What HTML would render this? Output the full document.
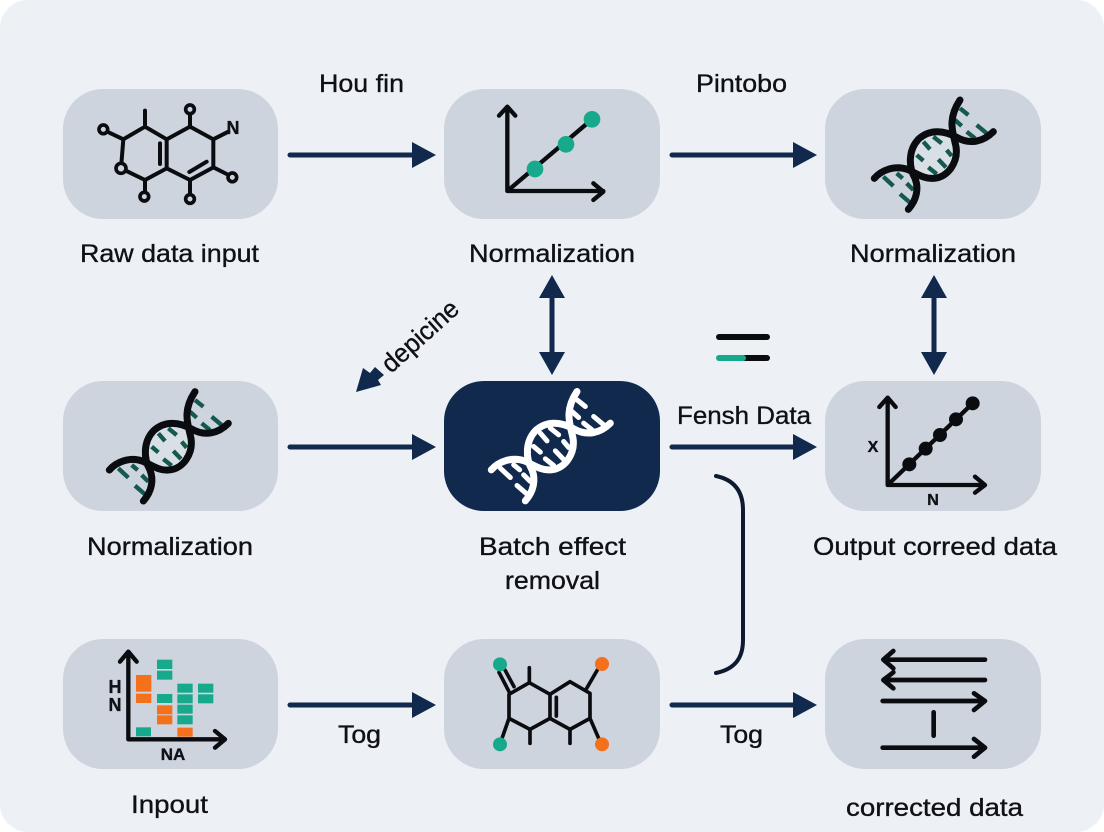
<!DOCTYPE html>
<html><head><meta charset="utf-8"><style>
html,body{margin:0;padding:0;background:#fff}
svg{display:block}
text{font-family:"Liberation Sans",sans-serif;fill:#0f1116;stroke:#0f1116;stroke-width:.35px}
.t{font-size:25px;text-anchor:start}
.k{fill:none;stroke:#0b0c10;stroke-linecap:round;stroke-linejoin:round}
</style></head><body>
<svg width="1104" height="832" viewBox="0 0 1104 832" xmlns="http://www.w3.org/2000/svg">
<defs>
<g id="dnaR" fill="none" stroke-linecap="round">
<path d="M408 200C415 245 385 293 340 295C310 297 295 285 285 295C265 260 265 210 295 178C330 145 375 152 410 172Z" fill="#d8dfe5" stroke="none"/>
<path d="M420 85L445 105M405 120L425 138M470 135L500 160M440 155L465 175M340 170L365 190M310 185L330 208M380 210L395 228M290 225L310 242M355 238L378 262M325 262L350 282M230 280L248 295M190 290L220 318M260 310L280 330M240 342L270 368" stroke="#14584f" stroke-width="13" stroke-linecap="butt"/>
<path d="M163 295C185 270 225 255 262 268C290 280 310 297 340 295C385 293 415 245 408 200C400 160 380 120 420 60" stroke="#0b0c10" stroke-width="21"/>
<path d="M520 155C490 185 450 195 410 172C375 152 330 145 295 178C265 210 265 260 285 295C297 325 290 360 265 388" stroke="#0b0c10" stroke-width="21"/>
</g>
<g id="dnaW" fill="none" stroke-linecap="round" stroke="#fff">
<path d="M420 85L445 105M405 120L425 138M470 135L500 160M440 155L465 175M340 170L365 190M310 185L330 208M380 210L395 228M290 225L310 242M355 238L378 262M325 262L350 282M230 280L248 295M190 290L220 318M260 310L280 330M240 342L270 368" stroke-width="15"/>
<path d="M163 295C185 270 225 255 262 268C290 280 310 297 340 295C385 293 415 245 408 200C400 160 380 120 420 60" stroke-width="21"/>
<path d="M520 155C490 185 450 195 410 172C375 152 330 145 295 178C265 210 265 260 285 295C297 325 290 360 265 388" stroke-width="21"/>
</g>
</defs>
<rect x="0" y="0" width="1104" height="832" rx="28" fill="#edf0f5"/>

<g fill="#cdd4dd">
<rect x="63" y="89" width="215" height="130" rx="40"/>
<rect x="444" y="89" width="216" height="130" rx="40"/>
<rect x="825" y="89" width="216" height="130" rx="40"/>
<rect x="63" y="381" width="215" height="130" rx="40"/>
<rect x="444" y="381" width="216" height="130" rx="40" fill="#10294d"/>
<rect x="825" y="381" width="216" height="130" rx="40"/>
<rect x="63" y="639" width="215" height="130" rx="40"/>
<rect x="444" y="639" width="216" height="130" rx="40"/>
<rect x="825" y="639" width="216" height="130" rx="40"/>
</g>

<!-- molecule 1 -->
<g transform="translate(60,80) scale(.33333)">
<path class="k" stroke-width="12" d="M255 140L320 178L320 265L255 300L183 265L190 178ZM320 178L390 140L460 178L460 262L390 300L320 265M255 140V92M300 190V252M388 276L440 245M190 178L148 158M390 140V105M460 178L505 155M460 262L500 282M390 300V340M255 300V332"/>
<g fill="none" stroke="#0b0c10" stroke-width="11">
<circle cx="130" cy="148" r="13"/><circle cx="390" cy="88" r="13"/><circle cx="517" cy="292" r="13"/><circle cx="390" cy="357" r="13"/><circle cx="253" cy="350" r="13"/><circle cx="183" cy="265" r="15" fill="#cdd4dd"/>
</g>
</g>
<text x="233" y="134" text-anchor="middle" font-size="18" font-weight="bold">N</text>

<!-- chart 1 -->
<g transform="translate(440,80) scale(.33333)">
<path class="k" stroke-width="13" d="M202 333V80M177 107L202 80L226 107M202 333H490M460 310L490 335L460 360M202 333L456 118"/>
<circle cx="285" cy="267" r="25" fill="#17a98c"/><circle cx="378" cy="193" r="25" fill="#17a98c"/><circle cx="456" cy="118" r="25" fill="#17a98c"/>
</g>

<!-- DNA -->
<use href="#dnaR" transform="translate(820,80) scale(.33333)"/>
<use href="#dnaR" transform="translate(55,371.7) scale(.33333)"/>
<use href="#dnaW" transform="translate(437,371.5) scale(.33333)"/>

<!-- chart 2 -->
<g transform="translate(820,375) scale(.33333)">
<path class="k" stroke-width="13" d="M203 330V68M178 96L203 68L227 96M203 330H493M465 305L495 330L465 353M203 330L458 85"/>
<g fill="#0b0c10"><circle cx="268" cy="268" r="21"/><circle cx="317" cy="221" r="21"/><circle cx="360" cy="180" r="21"/><circle cx="408" cy="133" r="21"/><circle cx="458" cy="85" r="21"/></g>
</g>
<text x="873" y="452" text-anchor="middle" font-size="16" font-weight="bold">X</text>
<text x="933" y="505" text-anchor="middle" font-size="16" font-weight="bold">N</text>

<!-- heat chart -->
<g transform="translate(60,635) scale(.33333)">
<g fill="#17a98c">
<rect x="291" y="74" width="46" height="28"/><rect x="291" y="107" width="46" height="27"/><rect x="352" y="146" width="46" height="27"/><rect x="352" y="178" width="46" height="27"/><rect x="414" y="146" width="46" height="27"/><rect x="414" y="178" width="46" height="27"/><rect x="291" y="177" width="46" height="27"/><rect x="352" y="209" width="46" height="27"/><rect x="352" y="241" width="46" height="27"/><rect x="228" y="277" width="45" height="27"/>
</g>
<g fill="#f4701b">
<rect x="228" y="120" width="46" height="50"/><rect x="228" y="176" width="46" height="28"/><rect x="291" y="211" width="46" height="27"/><rect x="291" y="241" width="46" height="27"/><rect x="352" y="278" width="46" height="27"/>
</g>
<path class="k" stroke-width="13" d="M205 313V50M180 80L205 50L230 80M205 313H492M465 288L495 313L465 338"/>
</g>
<text x="115" y="693" text-anchor="middle" font-size="18" font-weight="bold">H</text>
<text x="115" y="711" text-anchor="middle" font-size="18" font-weight="bold">N</text>
<text x="173" y="760" text-anchor="middle" font-size="17" font-weight="bold">NA</text>

<!-- molecule 2 -->
<g transform="translate(440,635) scale(.33333)">
<path class="k" stroke-width="11" d="M268 143L330 178L330 250L270 283L207 250L207 178ZM330 178L390 140L450 175L450 250L390 283L330 250M349 187V243M268 143V98M270 283V325M390 283V325M207 250L186 310M440 160L472 105M450 250L476 310M207 170L177 112M222 155L195 105"/>
<circle cx="180" cy="88" r="21" fill="#17a98c"/><circle cx="180" cy="328" r="21" fill="#17a98c"/><circle cx="486" cy="87" r="21" fill="#f4701b"/><circle cx="486" cy="328" r="21" fill="#f4701b"/>
</g>

<!-- arrows icon -->
<g transform="translate(820,635) scale(.33333)">
<path class="k" stroke-width="14" d="M495 74H190M220 48L190 74L220 100M495 135H190M220 112L190 135L220 160M188 198H495M462 175L495 198L462 225M341 232V302M188 338H495M462 312L495 338L462 365"/>
</g>

<!-- connectors -->
<g stroke="#10294d" stroke-width="5" fill="none" stroke-linecap="round">
<path d="M290 155H416M672 155H798M290 447H416M672 447H798M290 705H416M672 705H798M552 296V356M934 296V356"/>
<path d="M716 476C735 480 743 492 743 510V640C743 658 735 669 716 673" stroke-width="4" stroke="#0d1a30"/>
</g>
<g fill="#10294d">
<path d="M412 142L436 155L412 168ZM793 142L817 155L793 168ZM412 434L436 447L412 460ZM793 434L817 447L793 460ZM412 692L436 705L412 718ZM793 692L817 705L793 718Z"/>
<path d="M552 275L565 298H539ZM552 375L565 352H539ZM934 275L947 298H921ZM934 375L947 352H921Z"/>
<path d="M356 392L363 368L370 373L375 367L384 375L378 380L381 385Z"/>
</g>

<!-- equals glyph -->
<g stroke-width="6" stroke-linecap="round" fill="none">
<path d="M719 337H767" stroke="#0b0c10"/>
<path d="M743 358H767" stroke="#0b0c10"/>
<path d="M719 358H743" stroke="#17a98c"/>
</g>

<!-- labels -->
<text class="t" x="80" y="262" textLength="179" lengthAdjust="spacingAndGlyphs">Raw data input</text>
<text class="t" x="469" y="262" textLength="166" lengthAdjust="spacingAndGlyphs">Normalization</text>
<text class="t" x="850" y="262" textLength="166" lengthAdjust="spacingAndGlyphs">Normalization</text>
<text class="t" x="87" y="555" textLength="166" lengthAdjust="spacingAndGlyphs">Normalization</text>
<text class="t" x="479" y="555" textLength="147" lengthAdjust="spacingAndGlyphs">Batch effect</text>
<text class="t" x="505" y="589" textLength="95" lengthAdjust="spacingAndGlyphs">removal</text>
<text class="t" x="813" y="555" textLength="244" lengthAdjust="spacingAndGlyphs">Output correed data</text>
<text class="t" x="131" y="813" textLength="77" lengthAdjust="spacingAndGlyphs">Inpout</text>
<text class="t" x="846" y="816" textLength="177" lengthAdjust="spacingAndGlyphs">corrected data</text>
<text class="t" x="319" y="92" textLength="85" lengthAdjust="spacingAndGlyphs">Hou fin</text>
<text class="t" x="696" y="92" textLength="91" lengthAdjust="spacingAndGlyphs">Pintobo</text>
<text class="t" x="677" y="424" textLength="134" lengthAdjust="spacingAndGlyphs">Fensh Data</text>
<text class="t" x="338" y="743" textLength="43" lengthAdjust="spacingAndGlyphs">Tog</text>
<text class="t" x="720" y="743" textLength="43" lengthAdjust="spacingAndGlyphs">Tog</text>
<text transform="translate(391,374) rotate(-42)" font-size="26" textLength="94" lengthAdjust="spacingAndGlyphs">depicine</text>
</svg>
</body></html>
